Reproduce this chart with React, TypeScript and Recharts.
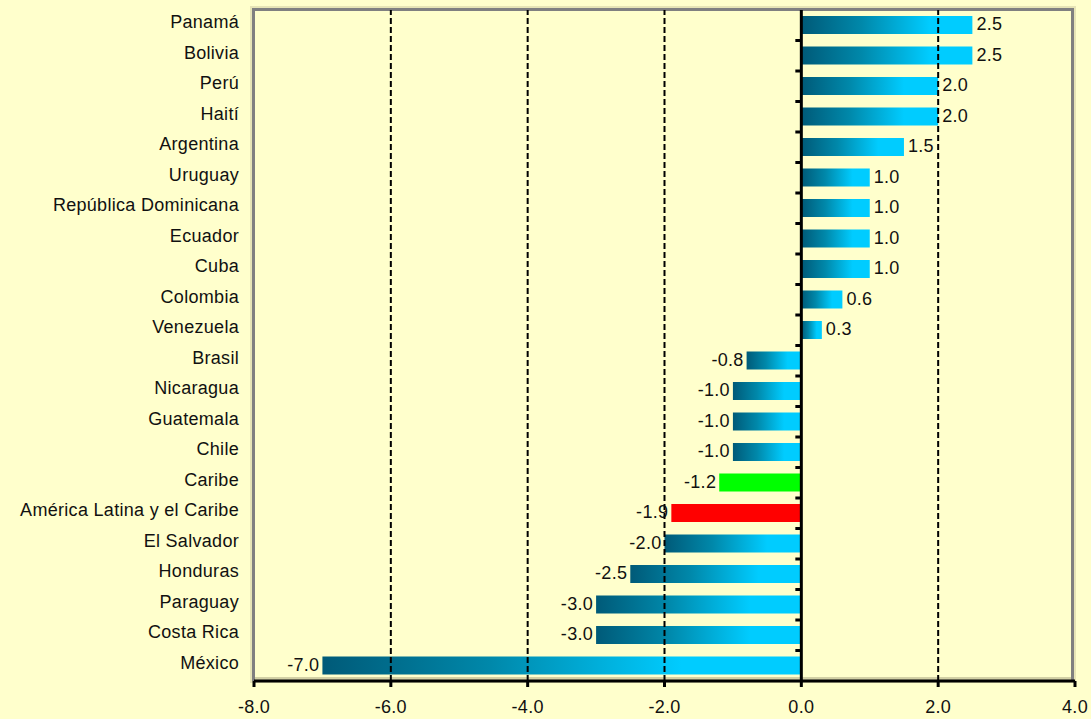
import React from "react";
import { BarChart, Bar, XAxis, YAxis, ReferenceLine, Cell, LabelList } from "recharts";

const countries = [
  "Panamá", "Bolivia", "Perú", "Haití", "Argentina", "Uruguay", "República Dominicana",
  "Ecuador", "Cuba", "Colombia", "Venezuela", "Brasil", "Nicaragua", "Guatemala", "Chile",
  "Caribe", "América Latina y el Caribe", "El Salvador", "Honduras", "Paraguay", "Costa Rica", "México",
];
const growth = [2.5, 2.5, 2.0, 2.0, 1.5, 1.0, 1.0, 1.0, 1.0, 0.6, 0.3, -0.8, -1.0, -1.0, -1.0, -1.2, -1.9, -2.0, -2.5, -3.0, -3.0, -7.0];
const xTicks = [-8, -6, -4, -2, 0, 2, 4];
const gridLines = [-6, -4, -2, 2];
const highlight: Record<string, string> = { "Caribe": "#00FF00", "América Latina y el Caribe": "#FF0000" };

const data = countries.map((name, i) => ({ name, value: growth[i] }));

const W = 1091;
const H = 719;
const M = { top: 10, right: 16, left: 0, bottom: 0 };
const Y_W = 254;
const X_H = 38;
const DOMAIN: [number, number] = [-8, 4];
const plotLeft = M.left + Y_W;
const plotW = W - M.left - M.right - Y_W;
const plotH = H - M.top - M.bottom - X_H;
const zeroX = plotLeft + ((0 - DOMAIN[0]) / (DOMAIN[1] - DOMAIN[0])) * plotW;
const halfBand = plotH / countries.length / 2;
const FONT = "'Liberation Sans', Arial, sans-serif";

const YTick = (props: any) => {
  const { x, y, payload, index } = props;
  return (
    <g>
      <text x={x} y={y} dy={3} textAnchor="end" fontSize={18} letterSpacing={0.3} fontFamily={FONT} fill="#111">
        {payload.value}
      </text>
      {index > 0 && (
        <line x1={zeroX - 6} x2={zeroX} y1={y - halfBand} y2={y - halfBand} stroke="#000" strokeWidth={3} />
      )}
    </g>
  );
};

const XTick = (props: any) => {
  const { x, y, payload } = props;
  return (
    <text x={x} y={y} dy={22} textAnchor="middle" fontSize={18} letterSpacing={0.3} fontFamily={FONT} fill="#111">
      {Number(payload.value).toFixed(1)}
    </text>
  );
};

const ValueLabel = (props: any) => {
  const { x, y, width, height, value } = props;
  const left = Math.min(x, x + width);
  const right = Math.max(x, x + width);
  const pos = value >= 0;
  return (
    <text
      x={pos ? right + 4 : left - 3}
      y={y + height / 2}
      dy={5}
      textAnchor={pos ? "start" : "end"}
      fontSize={18}
      letterSpacing={0.3}
      fontFamily={FONT}
      fill="#111"
    >
      {Number(value).toFixed(1)}
    </text>
  );
};

export default function App() {
  return (
    <div style={{ position: "absolute", left: 0, top: 0, width: W, height: H, background: "#FFFFCC", overflow: "hidden" }}>
      <div
        style={{
          position: "absolute",
          left: plotLeft - 2,
          top: M.top - 2,
          width: plotW + 1,
          height: plotH + 2,
          borderTop: "3px solid #808080",
          borderLeft: "3px solid #808080",
          borderRight: "3px solid #808080",
          boxShadow: "0 0 0 2px #E6E4B6, inset 0 -4px 0 #D2D0A4",
          boxSizing: "border-box",
        }}
      />
      <div style={{ position: "absolute", left: 0, top: 0 }}>
        <BarChart width={W} height={H} data={data} layout="vertical" margin={M} barSize={18}>
          <defs>
            <linearGradient id="barGrad" x1="0" y1="0" x2="1" y2="0">
              <stop offset="0%" stopColor="#005A78" />
              <stop offset="35%" stopColor="#0088AA" />
              <stop offset="75%" stopColor="#00CCFF" />
              <stop offset="100%" stopColor="#00CCFF" />
            </linearGradient>
          </defs>
          <XAxis
            type="number"
            domain={DOMAIN}
            ticks={xTicks}
            height={X_H}
            axisLine={{ stroke: "#000", strokeWidth: 3 }}
            tickLine={{ stroke: "#000", strokeWidth: 3 }}
            tickSize={6}
            tickMargin={4}
            tick={<XTick />}
            interval={0}
          />
          <YAxis
            type="category"
            dataKey="name"
            width={Y_W}
            axisLine={false}
            tickLine={false}
            tickMargin={9}
            interval={0}
            tick={<YTick />}
          />
          {gridLines.map((g) => (
            <ReferenceLine key={g} x={g} stroke="#000" strokeWidth={2} strokeDasharray="6 3" />
          ))}
          <Bar dataKey="value" isAnimationActive={false}>
            {data.map((d) => (
              <Cell key={d.name} fill={highlight[d.name] || "url(#barGrad)"} />
            ))}
            <LabelList dataKey="value" content={<ValueLabel />} />
          </Bar>
          <ReferenceLine x={0} stroke="#000" strokeWidth={3} />
        </BarChart>
      </div>
    </div>
  );
}
